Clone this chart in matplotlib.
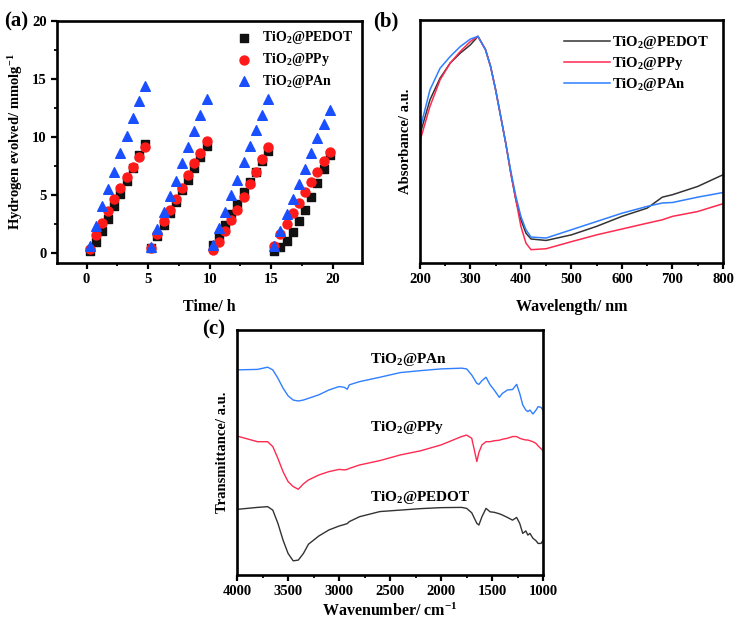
import matplotlib
matplotlib.use("Agg")
from matplotlib import pyplot as plt
from matplotlib.ticker import MultipleLocator
import numpy as np

plt.rcParams['font.family'] = ['Liberation Serif', 'DejaVu Serif']
plt.rcParams['font.weight'] = 'bold'
plt.rcParams['mathtext.default'] = 'regular'

names = ["TiO$_2$@PEDOT", "TiO$_2$@PPy", "TiO$_2$@PAn"]

# (a) hydrogen evolution, 4 cycles of 5 h
time_h = [0.25, 0.75, 1.25, 1.75, 2.25, 2.75, 3.25, 3.75, 4.25, 4.75,
          5.25, 5.75, 6.25, 6.75, 7.25, 7.75, 8.25, 8.75, 9.25, 9.75,
          10.25, 10.75, 11.25, 11.75, 12.25, 12.75, 13.25, 13.75, 14.25, 14.75,
          15.25, 15.75, 16.25, 16.75, 17.25, 17.75, 18.25, 18.75, 19.25, 19.75]
h2_pedot = [0.15, 0.9, 1.9, 2.9, 4.0, 5.1, 6.2, 7.3, 8.4, 9.4,
            0.4, 1.4, 2.4, 3.4, 4.4, 5.4, 6.3, 7.3, 8.3, 9.2,
            0.65, 1.4, 2.35, 3.3, 4.2, 5.2, 6.1, 7.0, 7.9, 8.8,
            0.1, 0.45, 1.0, 1.8, 2.7, 3.7, 4.8, 6.0, 7.2, 8.4]
h2_ppy = [0.3, 1.5, 2.6, 3.6, 4.6, 5.6, 6.5, 7.4, 8.3, 9.1,
          0.4, 1.6, 2.7, 3.7, 4.6, 5.6, 6.7, 7.7, 8.6, 9.6,
          0.2, 0.95, 1.85, 2.8, 3.7, 4.8, 5.9, 7.0, 8.1, 9.1,
          0.6, 1.6, 2.5, 3.4, 4.3, 5.2, 6.1, 7.0, 7.9, 8.7]
h2_pan = [0.57, 2.3, 4.0, 5.5, 7.0, 8.6, 10.1, 11.6, 13.1, 14.4,
          0.5, 2.0, 3.5, 4.9, 6.2, 7.7, 9.1, 10.5, 11.9, 13.3,
          0.65, 2.1, 3.5, 5.0, 6.3, 7.8, 9.2, 10.6, 11.9, 13.3,
          0.6, 1.9, 3.3, 4.6, 5.9, 7.2, 8.6, 9.9, 11.1, 12.3]

# (b) UV-vis absorbance (a.u.)
wl = [200, 220, 240, 260, 280, 300, 315, 330, 340, 350, 360, 370, 380, 390,
      400, 410, 420, 450, 500, 550, 600, 650, 680, 700, 750, 800]
abs_pedot = [0.527, 0.671, 0.760, 0.822, 0.863, 0.897, 0.932, 0.877, 0.808, 0.712,
             0.603, 0.493, 0.370, 0.260, 0.178, 0.123, 0.099, 0.093, 0.116, 0.151,
             0.192, 0.226, 0.271, 0.281, 0.315, 0.363]
abs_ppy = [0.500, 0.644, 0.753, 0.822, 0.870, 0.911, 0.932, 0.877, 0.808, 0.712,
           0.603, 0.493, 0.370, 0.260, 0.151, 0.082, 0.055, 0.059, 0.088, 0.116,
           0.140, 0.164, 0.178, 0.192, 0.212, 0.244]
abs_pan = [0.548, 0.712, 0.801, 0.849, 0.890, 0.921, 0.932, 0.877, 0.808, 0.712,
           0.603, 0.493, 0.378, 0.275, 0.192, 0.137, 0.107, 0.103, 0.137, 0.171,
           0.205, 0.233, 0.247, 0.249, 0.271, 0.290]

# (c) FTIR transmittance (a.u.)
wn = [4000, 3800, 3700, 3650, 3600, 3550, 3500, 3450, 3400, 3350, 3300, 3200,
      3100, 3000, 2950, 2920, 2900, 2800, 2600, 2400, 2200, 2000, 1800, 1750,
      1700, 1650, 1630, 1600, 1560, 1520, 1480, 1430, 1400, 1350, 1300, 1260,
      1230, 1200, 1170, 1150, 1130, 1100, 1070, 1050, 1020, 1000]
tr_pan = [0.837, 0.839, 0.848, 0.837, 0.803, 0.763, 0.731, 0.714, 0.710, 0.714,
          0.721, 0.735, 0.755, 0.769, 0.766, 0.758, 0.776, 0.789, 0.807, 0.826,
          0.834, 0.841, 0.844, 0.841, 0.816, 0.782, 0.778, 0.793, 0.807, 0.776,
          0.755, 0.725, 0.741, 0.755, 0.757, 0.778, 0.741, 0.694, 0.673, 0.667,
          0.673, 0.657, 0.673, 0.687, 0.684, 0.671]
tr_ppy = [0.567, 0.544, 0.544, 0.524, 0.476, 0.422, 0.381, 0.361, 0.350, 0.372,
          0.388, 0.408, 0.422, 0.431, 0.429, 0.431, 0.435, 0.449, 0.467, 0.490,
          0.507, 0.531, 0.565, 0.571, 0.558, 0.463, 0.500, 0.531, 0.544, 0.544,
          0.548, 0.550, 0.554, 0.558, 0.565, 0.565, 0.558, 0.554, 0.551, 0.551,
          0.548, 0.544, 0.537, 0.527, 0.515, 0.507]
tr_pedot = [0.268, 0.276, 0.279, 0.265, 0.211, 0.143, 0.088, 0.058, 0.061, 0.088,
            0.126, 0.159, 0.184, 0.200, 0.206, 0.210, 0.218, 0.238, 0.259, 0.265,
            0.271, 0.275, 0.276, 0.272, 0.254, 0.211, 0.204, 0.238, 0.272, 0.258,
            0.256, 0.250, 0.245, 0.235, 0.224, 0.235, 0.211, 0.170, 0.180, 0.163,
            0.170, 0.150, 0.140, 0.129, 0.129, 0.143]

fig = plt.figure(figsize=(7.34, 6.19), dpi=100)
ax_a = fig.add_axes([0.0777, 0.575, 0.416, 0.391])
ax_b = fig.add_axes([0.572, 0.575, 0.413, 0.393])
ax_c = fig.add_axes([0.323, 0.071, 0.417, 0.396])

for ax in (ax_a, ax_b, ax_c):
    for s in ax.spines.values():
        s.set_linewidth(1.9)
    ax.tick_params(which='major', direction='out', length=4.5, width=1.6,
                   labelsize=10.5, top=False, right=False, pad=3)
    ax.tick_params(which='minor', direction='out', length=2.5, width=1.3,
                   top=False, right=False)

# (a)
ax_a.scatter(time_h, h2_pedot, marker='s', s=38, color='#111111', label=names[0], zorder=3)
ax_a.scatter(time_h, h2_ppy, marker='o', s=42, color='#ff1a1a', label=names[1], zorder=3)
ax_a.scatter(time_h, h2_pan, marker='^', s=48, color='#1a4fff', label=names[2], zorder=3)
ax_a.set_xlim(-2.4, 22.4)
ax_a.set_ylim(-0.9, 20)
ax_a.xaxis.set_major_locator(MultipleLocator(5))
ax_a.xaxis.set_minor_locator(MultipleLocator(2.5))
ax_a.yaxis.set_major_locator(MultipleLocator(5))
ax_a.yaxis.set_minor_locator(MultipleLocator(2.5))
ax_a.set_xlabel("Time/ h", fontsize=11.5, fontweight='bold', labelpad=9)
ax_a.set_ylabel("Hydrogen evolved/ mmolg$^{-1}$", fontsize=10.5, fontweight='bold', labelpad=5)
ax_a.legend(loc='upper right', frameon=False, fontsize=10, handletextpad=0.3,
            labelspacing=0.35, borderaxespad=0.2, scatterpoints=1)
fig.text(0.005, 0.965, "(a)", fontsize=15, fontweight='bold', va='center')

# (b)
ax_b.plot(wl, abs_pedot, color='#333333', lw=1.1, label=names[0])
ax_b.plot(wl, abs_ppy, color='#ff2a50', lw=1.1, label=names[1])
ax_b.plot(wl, abs_pan, color='#2f7fff', lw=1.1, label=names[2])
ax_b.set_xlim(200, 800)
ax_b.set_ylim(0, 1)
ax_b.set_yticks([])
ax_b.xaxis.set_major_locator(MultipleLocator(100))
ax_b.xaxis.set_minor_locator(MultipleLocator(50))
ax_b.set_xlabel("Wavelength/ nm", fontsize=11.5, fontweight='bold', labelpad=9)
ax_b.set_ylabel("Absorbance/ a.u.", fontsize=10.5, fontweight='bold', labelpad=6)
ax_b.legend(loc='upper right', frameon=False, fontsize=10.5, handlelength=3.2,
            handletextpad=0.1, labelspacing=0.25, borderaxespad=0.6)
fig.text(0.508, 0.965, "(b)", fontsize=15, fontweight='bold', va='center')

# (c)
ax_c.plot(wn, tr_pan, color='#2f7fff', lw=1.0)
ax_c.plot(wn, tr_ppy, color='#ff2a50', lw=1.0)
ax_c.plot(wn, tr_pedot, color='#333333', lw=1.0)
ax_c.set_xlim(4000, 1000)
ax_c.set_ylim(0, 1)
ax_c.set_yticks([])
ax_c.xaxis.set_major_locator(MultipleLocator(500))
ax_c.xaxis.set_minor_locator(MultipleLocator(250))
ax_c.text(2700, 0.878, names[2], fontsize=11, fontweight='bold', va='center')
ax_c.text(2700, 0.600, names[1], fontsize=11, fontweight='bold', va='center')
ax_c.text(2700, 0.318, names[0], fontsize=11, fontweight='bold', va='center')
ax_c.set_xlabel("Wavenumber/ cm$^{-1}$", fontsize=11.5, fontweight='bold', labelpad=3)
ax_c.set_ylabel("Transmittance/ a.u.", fontsize=10.5, fontweight='bold', labelpad=6)
fig.text(0.275, 0.467, "(c)", fontsize=15, fontweight='bold', va='center')

fig.savefig("out.png", dpi=100)
